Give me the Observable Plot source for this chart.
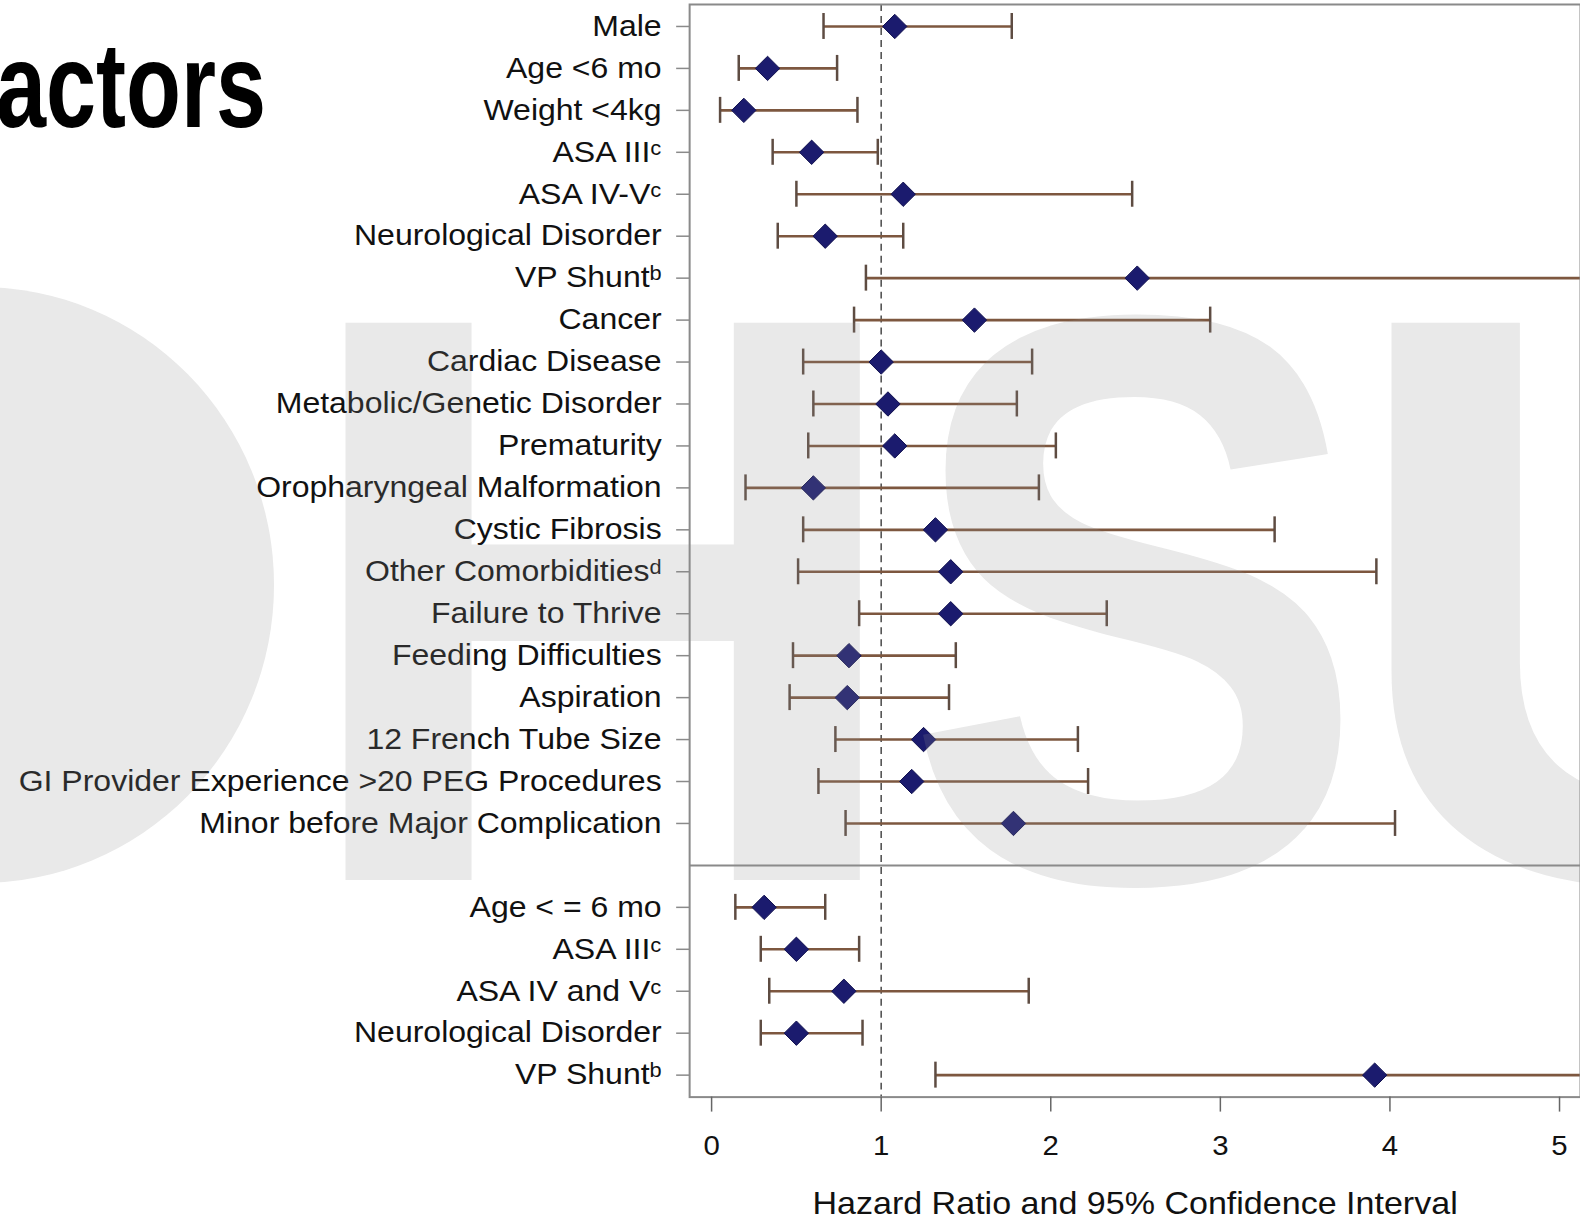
<!DOCTYPE html>
<html>
<head>
<meta charset="utf-8">
<script src="https://cdn.jsdelivr.net/npm/d3@7"></script>
<script src="https://cdn.jsdelivr.net/npm/@observablehq/plot@0.6"></script>
<style>
  html, body { margin: 0; padding: 0; background: #fff; overflow: hidden; }
  #wrap { position: relative; width: 1580px; height: 1222px; overflow: hidden; background: #fff; }
  #wrap > svg { position: absolute; left: 0; top: 0; }
</style>
</head>
<body>
<div id="wrap"></div>
<script>
// Univariable hazard ratios (top panel)
const factorsUni = [
  "Male", "Age <6 mo", "Weight <4kg", "ASA III\u1D9C", "ASA IV-V\u1D9C",
  "Neurological Disorder", "VP Shunt\u1D47", "Cancer", "Cardiac Disease",
  "Metabolic/Genetic Disorder", "Prematurity", "Oropharyngeal Malformation",
  "Cystic Fibrosis", "Other Comorbidities\u1D48", "Failure to Thrive",
  "Feeding Difficulties", "Aspiration", "12 French Tube Size",
  "GI Provider Experience >20 PEG Procedures", "Minor before Major Complication"
];
const hrUni = [1.08, 0.33, 0.19, 0.59, 1.13, 0.67, 2.51, 1.55, 1.00, 1.04, 1.08, 0.60, 1.32, 1.41, 1.41, 0.81, 0.80, 1.25, 1.18, 1.78];
const loUni = [0.66, 0.16, 0.05, 0.36, 0.50, 0.39, 0.91, 0.84, 0.54, 0.60, 0.57, 0.20, 0.54, 0.51, 0.87, 0.48, 0.46, 0.73, 0.63, 0.79];
const hiUni = [1.77, 0.74, 0.86, 0.98, 2.48, 1.13, 6.87, 2.94, 1.89, 1.80, 2.03, 1.93, 3.32, 3.92, 2.33, 1.44, 1.40, 2.16, 2.22, 4.03];

// Multivariable hazard ratios (bottom panel)
const factorsMulti = ["Age < = 6 mo", "ASA III\u1D9C", "ASA IV and V\u1D9C", "Neurological Disorder", "VP Shunt\u1D47"];
const hrMulti = [0.31, 0.50, 0.78, 0.50, 3.91];
const loMulti = [0.14, 0.29, 0.34, 0.29, 1.32];
const hiMulti = [0.67, 0.87, 1.87, 0.89, 11.6];

const xTicks = [0, 1, 2, 3, 4, 5];
const referenceHR = 1;
const axisTitle = "Hazard Ratio and 95% Confidence Interval";
const slideTitle = "actors";
const watermark = ["H", "S", "U"];

// One row per factor; an empty slot separates the two panels
const spacer = factorsUni.length;
const rows = [
  ...factorsUni.map((name, i) => ({key: i, name, hr: hrUni[i], lo: loUni[i], hi: hiUni[i]})),
  ...factorsMulti.map((name, i) => ({key: spacer + 1 + i, name, hr: hrMulti[i], lo: loMulti[i], hi: hiMulti[i]}))
];
const keys = d3.range(factorsUni.length + 1 + factorsMulti.length);
const labelOf = new Map(rows.map(d => [d.key, d.name]));

const W = 1582, H = 1222, mLeft = 690, mRight = 0, mTop = 4, mBottom = 124;
const pxPerUnit = 169.8, zeroAt = 712;
const xMin = (mLeft - zeroAt) / pxPerUnit;
const xMax = (W - mRight - zeroAt) / pxPerUnit;

const gridGray = "#8a8a8a";
const ciColor = "#7d573f";
const capColor = "#5e4c42";
const diamondFill = "#1b1b6e";

const chart = Plot.plot({
  width: W,
  height: H,
  marginLeft: mLeft,
  marginRight: mRight,
  marginTop: mTop,
  marginBottom: mBottom,
  style: {fontFamily: "'Liberation Sans', Arial, sans-serif", background: "transparent", overflow: "visible"},
  x: {domain: [xMin, xMax], label: null},
  y: {type: "band", domain: keys, padding: 0, label: null},
  marks: [
    Plot.ruleX([referenceHR], {stroke: "#555", strokeWidth: 1.6, strokeDasharray: "7,5"}),
    Plot.ruleY(rows, {y: "key", x1: "lo", x2: "hi", stroke: ciColor, strokeWidth: 2.6, clip: true}),
    Plot.tickX(rows.filter(d => d.lo >= xMin), {x: "lo", y: "key", stroke: capColor, strokeWidth: 2.5, insetTop: 8, insetBottom: 8}),
    Plot.tickX(rows.filter(d => d.hi <= xMax), {x: "hi", y: "key", stroke: capColor, strokeWidth: 2.5, insetTop: 8, insetBottom: 8}),
    Plot.dot(rows, {x: "hr", y: "key", symbol: "diamond2", r: 11, fill: diamondFill, stroke: "#12124f", strokeWidth: 1}),
    Plot.ruleY([spacer], {stroke: gridGray, strokeWidth: 2}),
    Plot.frame({stroke: gridGray, strokeWidth: 2}),
    Plot.axisY({
      ticks: rows.map(d => d.key), tickFormat: k => labelOf.get(k),
      tickSize: 13, tickPadding: 15, fontSize: 29,
      stroke: "#8a8a8a", strokeWidth: 1.5, fill: "#111"
    }),
    Plot.axisX({
      ticks: xTicks, tickFormat: d => String(d),
      tickSize: 15, tickPadding: 23, fontSize: 28,
      stroke: "#666", strokeWidth: 1.5, fill: "#111"
    }),
    Plot.text([axisTitle], {text: d => d, frameAnchor: "bottom", dy: 107, lineAnchor: "middle", fontSize: 31, fill: "#111"})
  ]
});
document.getElementById("wrap").appendChild(chart);

// Widen the axis lettering horizontally, keeping each anchor point fixed
function stretch(nodes, sx) {
  nodes.forEach(t => {
    const tr = t.getAttribute("transform");
    if (tr) {
      t.setAttribute("transform", `${tr} scale(${sx},1)`);
    } else {
      const x = +t.getAttribute("x") || 0, y = +t.getAttribute("y") || 0;
      t.setAttribute("transform", `translate(${x},${y}) scale(${sx},1) translate(${-x},${-y})`);
    }
  });
}
stretch(chart.querySelectorAll('g[aria-label="y-axis tick label"] text'), 1.105);
stretch(chart.querySelectorAll('g[aria-label="x-axis tick label"] text'), 1.05);
stretch(chart.querySelectorAll('g[aria-label="text"] text'), 1.1);

// Slide heading and the translucent watermark lettering laid over the figure
const overlay = d3.select("#wrap").append("svg")
  .attr("width", 1580).attr("height", 1222)
  .style("pointer-events", "none");

overlay.append("text")
  .attr("transform", "translate(-4,127) scale(0.75,1)")
  .attr("font-family", "'Liberation Sans', Arial, sans-serif")
  .attr("font-weight", "bold")
  .attr("font-size", 120)
  .attr("fill", "#000")
  .text(slideTitle);

const wm = overlay.append("g")
  .attr("opacity", 0.2)
  .attr("fill", "#8f8f8f");

// the round first letter, only its right half falls inside the page
wm.append("ellipse")
  .attr("cx", -20).attr("cy", 585)
  .attr("rx", 294).attr("ry", 298);

const wmLayout = [
  {x: 287, sx: 1.08},
  {x: 903, sx: 0.86},
  {x: 1338, sx: 1.1}
];
wm.append("g")
  .attr("font-family", "'Liberation Sans', Arial, sans-serif")
  .attr("font-weight", "bold")
  .attr("font-size", 810)
  .selectAll("text")
  .data(watermark)
  .join("text")
  .attr("transform", (d, i) => `translate(${wmLayout[i].x},880) scale(${wmLayout[i].sx},1)`)
  .text(d => d);
</script>
</body>
</html>
